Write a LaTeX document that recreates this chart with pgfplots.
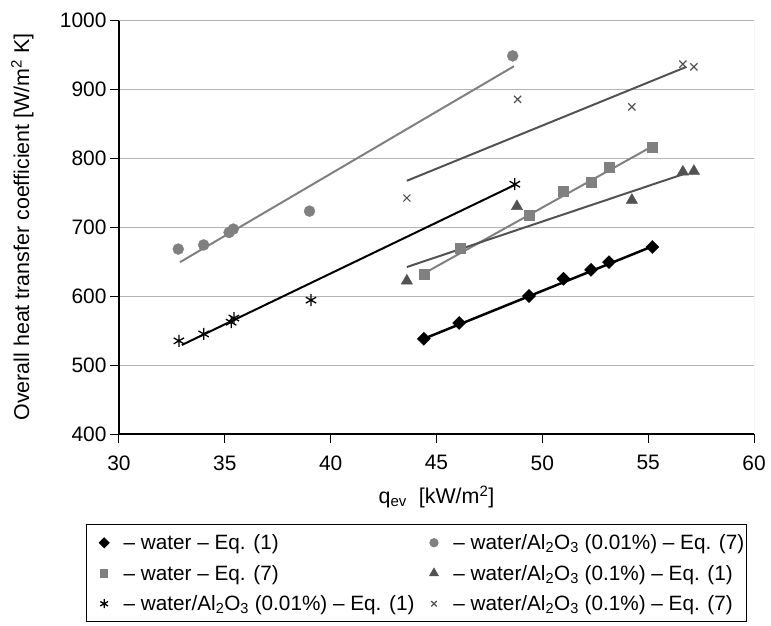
\documentclass[border=0pt]{standalone}
\usepackage{pgfplots}
\pgfplotsset{compat=1.18}
\usepackage{fontspec}
\setmainfont{Liberation Sans}

\definecolor{lgray}{RGB}{128,128,128}
\definecolor{dgray}{RGB}{82,82,82}
\definecolor{gridgray}{RGB}{180,180,180}

\newcommand{\tickfont}{\fontsize{21}{25}\selectfont}
\newcommand{\chartfont}{\fontsize{21.5}{26}\selectfont}
\newcommand{\legfont}{\fontsize{20.8}{25}\selectfont}

\begin{document}
\begin{tikzpicture}
\begin{axis}[
  name=main,
  scale only axis, width=635bp, height=414bp,
  xmin=30, xmax=60, ymin=400, ymax=1000,
  xtick={30,35,...,60}, ytick={400,500,...,1000},
  axis x line*=bottom, axis y line*=left,
  axis line style={black, line width=1.3pt, -},
  ymajorgrids, major grid style={gridgray, line width=1pt},
  tick align=outside, major tick length=9bp,
  tick style={black, line width=1pt},
  /pgf/number format/assume math mode=true,
  /pgf/number format/1000 sep={},
  tick label style={font=\tickfont},
  xticklabel style={yshift=-9bp},
  label style={font=\chartfont},
  ylabel={Overall heat transfer coefficient [W/m\textsuperscript{2} K]},
  ylabel style={at={(axis description cs:-0.152,0.5)}, anchor=center},
  legend columns=2,
  legend cell align=left,
  legend image code/.code={%
    \path (0bp,-5bp) (34bp,5bp);
    \begin{scope}[shift={(17bp,0bp)}, scale=0.75]
      \draw[#1] plot coordinates {(0bp,0bp)};
    \end{scope}},
  legend style={at={(0.4685,-0.2174)}, anchor=north, draw=black,
    line width=1pt, font=\legfont, inner xsep=0bp, inner ysep=8bp,
    row sep=10bp,
    /tikz/every even column/.append style={column sep=0bp}},
]
% trend lines
\addplot[black, line width=2.5pt, forget plot] coordinates {(44.4,538) (55.2,672)};
\addplot[lgray, line width=2pt, forget plot] coordinates {(44.6,636) (55.2,817)};
\addplot[black, line width=2pt, forget plot] coordinates {(32.97,529) (48.7,761)};
\addplot[lgray, line width=2pt, forget plot] coordinates {(32.88,649) (48.66,933)};
\addplot[dgray, line width=2pt, forget plot] coordinates {(43.6,642) (56.8,778)};
\addplot[dgray, line width=2pt, forget plot] coordinates {(43.6,767) (56.8,932)};

% water - Eq. (1)
\addplot[only marks, mark=square*, mark size=4.6bp, mark options={rotate=45, black, fill=black}]
  coordinates {(44.4,538) (46.07,561) (49.37,600) (51.0,625) (52.3,638) (53.15,649) (55.2,671)};
\addlegendentry{-- water -- Eq. (1)}
% water/Al2O3 (0.01%) - Eq. (7)
\addplot[only marks, mark=*, mark size=5.5bp, mark options={lgray, fill=lgray}]
  coordinates {(32.8,668) (34.0,674) (35.2,692) (35.4,697) (39.0,723) (48.6,948)};
\addlegendentry{-- water/Al\textsubscript{2}O\textsubscript{3} (0.01\%) -- Eq. (7)}
% water - Eq. (7)
\addplot[only marks, mark=square*, mark size=5bp, mark options={lgray, fill=lgray}]
  coordinates {(44.4,632) (46.1,670) (49.37,717) (51.0,752) (52.3,765) (53.15,787) (55.2,815)};
\addlegendentry{-- water -- Eq. (7)}
% water/Al2O3 (0.1%) - Eq. (1)
\addplot[only marks, mark=triangle*, mark size=6.5bp, mark options={dgray, fill=dgray}]
  coordinates {(43.6,622) (48.8,730) (54.23,739) (56.64,780) (57.16,781)};
\addlegendentry{-- water/Al\textsubscript{2}O\textsubscript{3} (0.1\%) -- Eq. (1)}
% water/Al2O3 (0.01%) - Eq. (1)
\addplot[only marks, mark=asterisk, mark size=6bp, mark options={black, line width=1.3pt}]
  coordinates {(32.83,535) (34.0,545) (35.3,562) (35.43,568) (39.07,594) (48.7,762)};
\addlegendentry{-- water/Al\textsubscript{2}O\textsubscript{3} (0.01\%) -- Eq. (1)}
% water/Al2O3 (0.1%) - Eq. (7)
\addplot[only marks, mark=x, mark size=5bp, mark options={dgray, line width=1.2pt}]
  coordinates {(43.6,742) (48.83,885) (54.23,874) (56.64,936) (57.16,932)};
\addlegendentry{-- water/Al\textsubscript{2}O\textsubscript{3} (0.1\%) -- Eq. (7)}

\draw[gridgray, line width=1pt] (rel axis cs:0,1) -- (rel axis cs:1,1) -- (rel axis cs:1,0);
\end{axis}
\node[font=\chartfont] at ([yshift=-63bp]main.south)
  {q\textsubscript{ev} \ [kW/m\textsuperscript{2}]};
\pgfresetboundingbox
\path ([xshift=-119bp,yshift=-192bp]main.south west) rectangle ([xshift=17bp,yshift=20bp]main.north east);
\end{tikzpicture}
\end{document}
